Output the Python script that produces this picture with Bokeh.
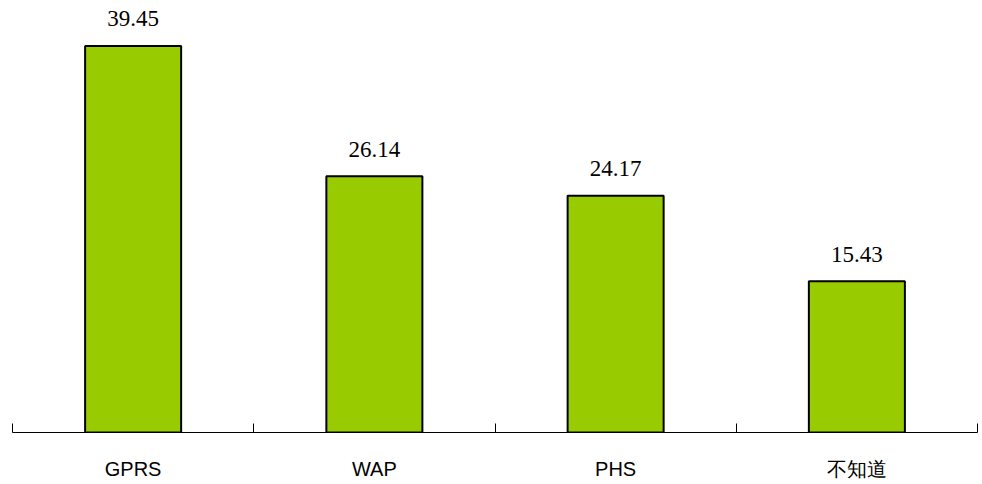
from bokeh.plotting import figure
from bokeh.models import ColumnDataSource, Range1d, FixedTicker
from bokeh.core.properties import value
from bokeh.embed import file_html
from bokeh.resources import INLINE

categories = ["GPRS", "WAP", "PHS", "不知道"]
values = [39.45, 26.14, 24.17, 15.43]
value_labels = ["39.45", "26.14", "24.17", "15.43"]

xs = [i + 0.5 for i in range(len(categories))]
src = ColumnDataSource(dict(x=xs, top=values, lab=value_labels))

p = figure(width=982, height=484, output_backend="svg", toolbar_location=None,
           x_range=Range1d(0, len(categories)), y_range=Range1d(0, 44.08),
           min_border_left=12, min_border_right=5, min_border_top=0, min_border_bottom=52)
p.outline_line_color = None
p.grid.visible = False
p.yaxis.visible = False
p.background_fill_color = "white"

p.vbar(x="x", top="top", bottom=0, width=0.398, source=src,
       fill_color="#99CC00", line_color="black", line_width=2)

p.text(x="x", y="top", text="lab", source=src, text_align="center",
       text_baseline="alphabetic", y_offset=-27,
       text_font=value("Liberation Serif"), text_font_size="23px", text_color="black")

ax = p.xaxis[0]
ax.ticker = FixedTicker(ticks=xs, minor_ticks=list(range(len(categories) + 1)))
ax.major_label_overrides = {x: c for x, c in zip(xs, categories)}
ax.major_tick_in = 0
ax.major_tick_out = 0
ax.minor_tick_in = 9
ax.minor_tick_out = 0
ax.minor_tick_line_color = "black"
ax.axis_line_color = "black"
ax.axis_line_width = 1
ax.major_label_standoff = 25
ax.major_label_text_font = "Liberation Sans"
ax.major_label_text_font_size = "20px"
ax.major_label_text_color = "black"

open("out.html", "w").write(file_html(p, INLINE))
